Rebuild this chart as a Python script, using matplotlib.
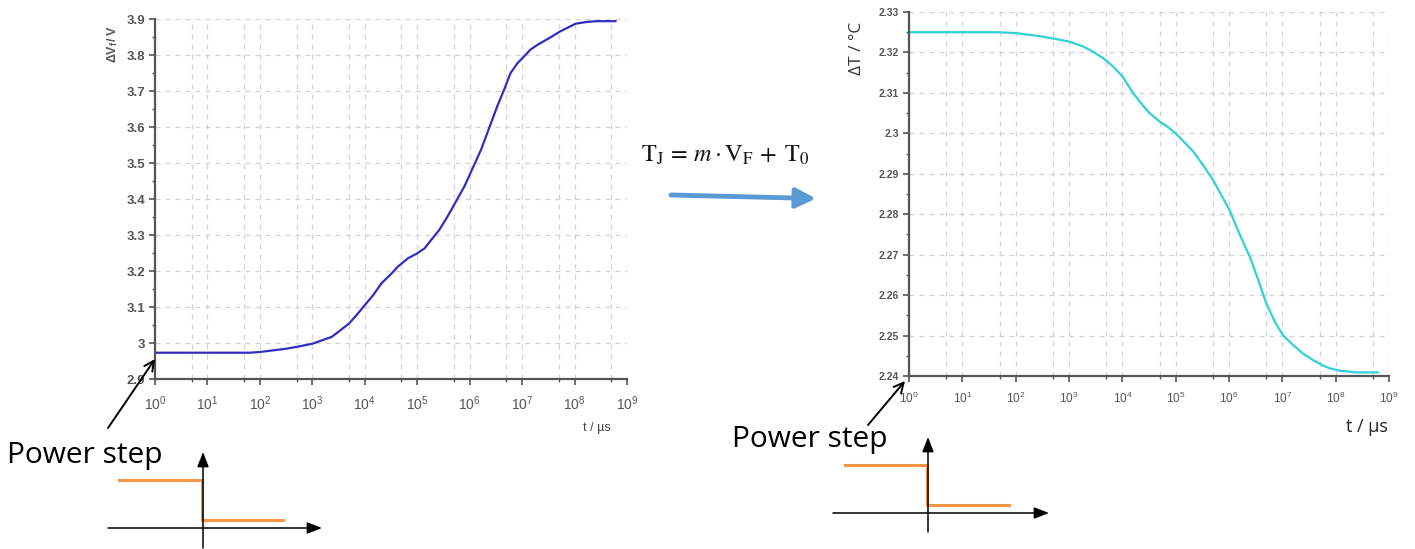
import numpy as np
import matplotlib
matplotlib.use("Agg")
import matplotlib.pyplot as plt
from matplotlib.ticker import FixedLocator, FuncFormatter, LogFormatterSciNotation

# forward voltage transient after the power step (log10 of t in us, volts)
vf_log_t = [0.0, 1.0, 1.8, 2.0, 2.5, 2.73, 3.0, 3.37, 3.7, 3.84, 4.0, 4.16, 4.32,
            4.51, 4.63, 4.82, 5.0, 5.14, 5.27, 5.42, 5.58, 5.9, 6.22, 6.53, 6.66,
            6.78, 6.91, 7.03, 7.16, 7.29, 7.54, 7.72, 8.02, 8.24, 8.43, 8.78]
vf_values = [2.973, 2.973, 2.973, 2.975, 2.984, 2.990, 2.998, 3.017, 3.054, 3.077,
             3.105, 3.133, 3.166, 3.193, 3.212, 3.235, 3.249, 3.263, 3.287, 3.314,
             3.352, 3.435, 3.538, 3.659, 3.705, 3.750, 3.777, 3.795, 3.815, 3.828,
             3.849, 3.865, 3.887, 3.892, 3.894, 3.894]

# junction temperature transient derived from it (log10 of t in us, degC)
tj_log_t = [0.0, 1.0, 1.65, 2.0, 2.46, 2.64, 3.0, 3.26, 3.45, 3.64, 3.83, 4.0, 4.2,
            4.39, 4.51, 4.7, 4.86, 5.0, 5.33, 5.51, 5.7, 6.01, 6.2, 6.39, 6.55, 6.7,
            6.86, 7.01, 7.2, 7.39, 7.58, 7.76, 7.89, 8.08, 8.39, 8.79]
tj_values = [2.325, 2.325, 2.325, 2.3248, 2.324, 2.3236, 2.3227, 2.3215, 2.3202,
             2.3186, 2.3165, 2.3141, 2.3100, 2.3068, 2.3050, 2.3029, 2.3015, 2.3000,
             2.2955, 2.2922, 2.2885, 2.2810, 2.2750, 2.2695, 2.2637, 2.2579, 2.2534,
             2.2501, 2.2477, 2.2455, 2.2439, 2.2426, 2.2419, 2.2413, 2.2409, 2.2409]

vf_ticks = [2.9, 3.0, 3.1, 3.2, 3.3, 3.4, 3.5, 3.6, 3.7, 3.8, 3.9]
tj_ticks = [2.24, 2.25, 2.26, 2.27, 2.28, 2.29, 2.30, 2.31, 2.32, 2.33]
decades = list(range(0, 10))

plt.rcParams["font.family"] = ["Liberation Sans", "DejaVu Sans"]
plt.rcParams["mathtext.fontset"] = "stix"

W, H = 1415, 549
fig = plt.figure(figsize=(W / 100, H / 100), dpi=100)
fig.patch.set_facecolor("white")


def px_axes(left, top, right, bottom):
    return fig.add_axes([left / W, 1 - bottom / H, (right - left) / W, (bottom - top) / H])


def style_axes(ax, yticks, ylim, tick_size, x_size):
    ax.set_xscale("log")
    ax.set_xlim(1, 1e9)
    ax.set_ylim(*ylim)
    for side in ("top", "right"):
        ax.spines[side].set_visible(False)
    for side in ("left", "bottom"):
        ax.spines[side].set_color("#555555")
        ax.spines[side].set_linewidth(1.6)
    major_x = [10.0 ** d for d in decades]
    minor_x = [5 * 10.0 ** d for d in decades[:-1]]
    ax.xaxis.set_major_locator(FixedLocator(major_x))
    ax.xaxis.set_minor_locator(FixedLocator(minor_x))
    ax.xaxis.set_major_formatter(LogFormatterSciNotation())
    ax.xaxis.set_minor_formatter(FuncFormatter(lambda v, p: ""))
    ax.yaxis.set_major_locator(FixedLocator(yticks))
    step = yticks[1] - yticks[0]
    ax.yaxis.set_minor_locator(FixedLocator([v + step / 2 for v in yticks[:-1]]))
    ax.yaxis.set_major_formatter(FuncFormatter(lambda v, p: f"{v:g}"))
    ax.tick_params(which="major", direction="out", length=4, width=1.2, color="#555555")
    ax.tick_params(which="minor", direction="out", length=2.5, width=1.0, color="#555555")
    ax.tick_params(axis="x", which="major", labelsize=x_size, labelcolor="#555555", pad=7)
    ax.tick_params(axis="y", which="major", labelsize=tick_size, labelcolor="#555555", pad=3)
    for lab in ax.get_yticklabels():
        lab.set_fontweight("bold")
    ax.grid(True, which="both", axis="x", color="#d2d2d2", linestyle=(0, (4, 4)), linewidth=0.9)
    ax.grid(True, which="major", axis="y", color="#d2d2d2", linestyle=(0, (4, 4)), linewidth=0.9)
    ax.set_axisbelow(True)


# left panel: forward voltage
ax1 = px_axes(155, 19, 627, 379)
style_axes(ax1, vf_ticks, (2.9, 3.9), 9.5, 10)
ax1.plot(10.0 ** np.array(vf_log_t), vf_values, color="#2f2fc0", linewidth=1.6)
ax1.set_ylabel("ΔV$_\\mathregular{f}$/ V", fontsize=9, color="#555555", fontweight="bold")
ax1.yaxis.set_label_coords(-0.075, 0.93)
ax1.set_xlabel("t / µs", fontsize=9, color="#444444")
ax1.xaxis.set_label_coords(0.937, -0.12)

# right panel: junction temperature
ax2 = px_axes(909, 12, 1389, 376)
style_axes(ax2, tj_ticks, (2.24, 2.33), 7.5, 8.5)
ax2.plot(10.0 ** np.array(tj_log_t), tj_values, color="#2fd2d6", linewidth=1.6)
ax2.set_ylabel("ΔT / °C", fontsize=12.5, color="#333333", family="Open Sans")
ax2.yaxis.set_label_coords(-0.092, 0.90)
ax2.set_xlabel("t / µs", fontsize=13, color="#222222", family="Open Sans")
ax2.xaxis.set_label_coords(0.955, -0.115)

# overlay in pixel units for the formula, arrows and power-step sketches
ov = fig.add_axes([0, 0, 1, 1], zorder=10)
ov.set_xlim(0, W)
ov.set_ylim(H, 0)
ov.axis("off")
ov.patch.set_alpha(0)

ov.text(725, 155, r"$\mathrm{T_J}\,=\,m\cdot\mathrm{V_F}\,+\;\mathrm{T_0}$",
        fontsize=17.5, ha="center", va="center", color="#111111")
ov.annotate("", xy=(816, 198.5), xytext=(671, 195),
            arrowprops=dict(arrowstyle="-|>,head_length=1.2,head_width=0.6",
                            color="#5b9bd5", lw=3.5, shrinkA=0, shrinkB=0))

power_text = dict(fontsize=21.5, family="Open Sans", color="black", va="center", ha="left")
ov.text(7, 455, "Power step", **power_text)
ov.text(732, 439, "Power step", **power_text)

pointer = dict(arrowstyle="->,head_length=0.7,head_width=0.35", color="black",
               lw=1.4, shrinkA=0, shrinkB=0)
ov.annotate("", xy=(155, 359), xytext=(108, 428), arrowprops=pointer)
ov.annotate("", xy=(905, 381), xytext=(868, 425), arrowprops=pointer)

axis_arrow = dict(arrowstyle="-|>,head_length=0.9,head_width=0.35", color="black",
                  lw=1.1, shrinkA=0, shrinkB=0)
orange = "#f79646"

# left step sketch
ov.annotate("", xy=(322, 528), xytext=(108, 528), arrowprops=axis_arrow)
ov.annotate("", xy=(203, 452), xytext=(203, 548), arrowprops=axis_arrow)
ov.plot([119, 202, 202, 283], [480, 480, 520, 520], color=orange, lw=2.2)

# right step sketch
ov.annotate("", xy=(1049, 513), xytext=(833, 513), arrowprops=axis_arrow)
ov.annotate("", xy=(928, 437), xytext=(928, 532), arrowprops=axis_arrow)
ov.plot([845, 927, 927, 1009], [465, 465, 505, 505], color=orange, lw=2.2)

fig.savefig("out.png", dpi=100)
